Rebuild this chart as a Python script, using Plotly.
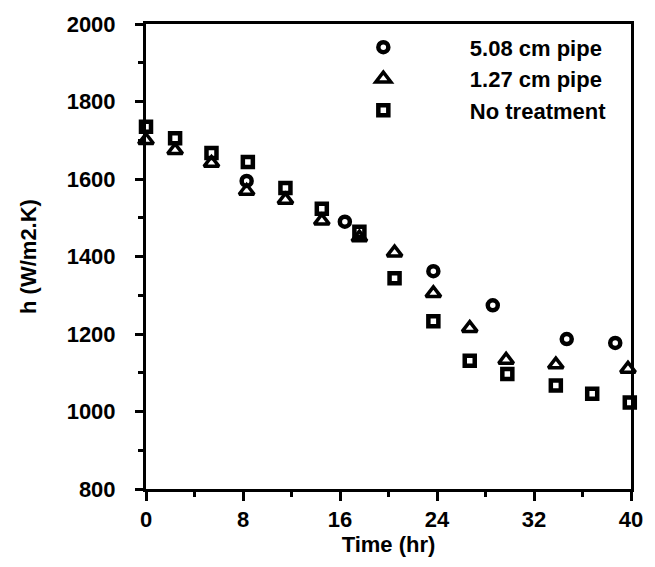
import plotly.graph_objects as go

# ---- data ----
circle_t = [8.3, 16.4, 23.7, 28.6, 34.7, 38.7]
circle_h = [1595, 1490, 1362, 1274, 1187, 1177]

tri_t = [0.0, 2.4, 5.4, 8.3, 11.5, 14.5, 17.6, 20.5, 23.7, 26.7, 29.7, 33.8, 39.75]
tri_h = [1700, 1674, 1641, 1569, 1546, 1492, 1449, 1410, 1305, 1215, 1133, 1121, 1110]

sq_t = [0.0, 2.4, 5.4, 8.4, 11.5, 14.5, 17.6, 20.5, 23.7, 26.7, 29.8, 33.8, 36.8, 39.9]
sq_h = [1735, 1705, 1667, 1644, 1577, 1523, 1464, 1344, 1233, 1131, 1097, 1067, 1046, 1023]

names = ["5.08 cm pipe", "1.27 cm pipe", "No treatment"]
x_range = [0, 40]
y_range = [800, 2000]
x_major, x_minor = 8, 4
y_major, y_minor = 200, 100

FONT = dict(family="Liberation Sans, Arial, sans-serif", size=22, color="black", weight="bold")

fig = go.Figure()
fig.add_trace(go.Scatter(x=circle_t, y=circle_h, mode="markers", name=names[0],
                         marker=dict(symbol="circle-open", size=10, color="black",
                                     line=dict(width=4.5, color="black")), cliponaxis=False))
fig.add_trace(go.Scatter(x=tri_t, y=tri_h, mode="markers", name=names[1],
                         marker=dict(symbol="triangle-up-open", size=13, color="black",
                                     line=dict(width=3.5, color="black")), cliponaxis=False))
fig.add_trace(go.Scatter(x=sq_t, y=sq_h, mode="markers", name=names[2],
                         marker=dict(symbol="square-open", size=10, color="black",
                                     line=dict(width=4.5, color="black")), cliponaxis=False))

fig.update_xaxes(
    range=x_range, tickmode="linear", tick0=0, dtick=x_major,
    showgrid=False, zeroline=False, showline=True, linecolor="black", linewidth=3, mirror=True,
    ticks="outside", ticklen=9, tickwidth=3, tickcolor="black", tickfont=FONT,
    minor=dict(tickmode="linear", tick0=0, dtick=x_minor, ticks="outside", ticklen=5,
               tickwidth=3, tickcolor="black", showgrid=False),
    title=dict(text="Time (hr)", font=FONT, standoff=6),
)
fig.update_yaxes(
    range=y_range, tickmode="linear", tick0=800, dtick=y_major,
    showgrid=False, zeroline=False, showline=True, linecolor="black", linewidth=3, mirror=True,
    ticks="outside", ticklen=8, tickwidth=3, tickcolor="black", tickfont=FONT,
    minor=dict(tickmode="linear", tick0=800, dtick=y_minor, ticks="outside", ticklen=5,
               tickwidth=3, tickcolor="black", showgrid=False),
    ticklabelstandoff=15,
    title=dict(text="h (W/m2.K)", font=FONT, standoff=24),
)

fig.update_layout(
    width=655, height=567,
    margin=dict(l=146, r=23, t=21, b=78),
    paper_bgcolor="white", plot_bgcolor="white",
    font=FONT,
    legend=dict(x=0.311, y=0.995, xanchor="left", yanchor="top", bgcolor="rgba(0,0,0,0)",
                itemwidth=163, font=FONT, tracegroupgap=0),
)

fig.write_html("out.html")
